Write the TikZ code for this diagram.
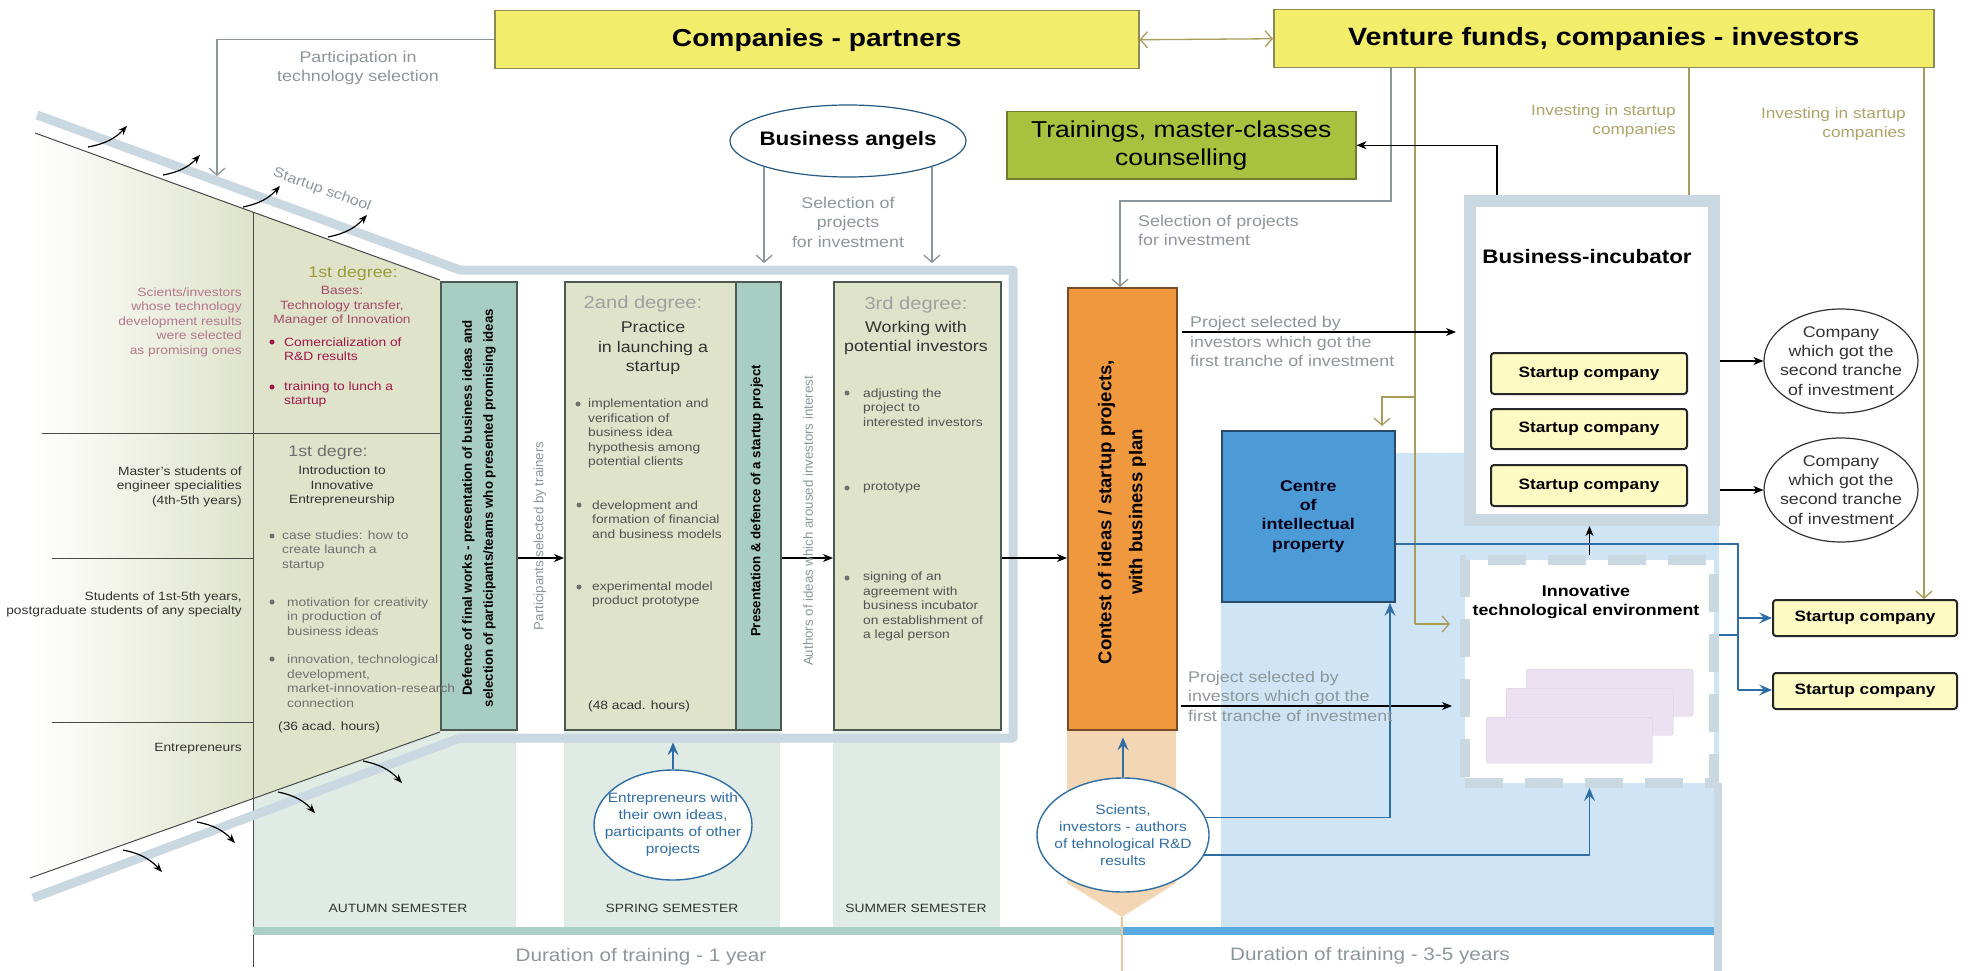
\documentclass[tikz,border=0pt]{standalone}
\usepackage{fontspec}
\setmainfont{Liberation Sans}[FakeStretch=1.15]
\newfontfamily\rotf{Liberation Sans}
\usetikzlibrary{shapes.geometric,arrows.meta,calc}
\newcommand\myfs[2]{\fontsize{#1}{#2}\selectfont}
\definecolor{clab}{HTML}{8C979B}
\definecolor{cband}{HTML}{C9D8E1}
\definecolor{cmint}{HTML}{DFEBE4}
\definecolor{cpale}{HTML}{DEE3CA}
\definecolor{cteal}{HTML}{A8CEC4}
\definecolor{cyel}{HTML}{F2ED6A}
\definecolor{cyelline}{HTML}{8E8A55}
\definecolor{ctrain}{HTML}{A9C13E}
\definecolor{ctrainline}{HTML}{6E7E2E}
\definecolor{corange}{HTML}{F0983D}
\definecolor{cbrown}{HTML}{7A4A22}
\definecolor{ctan}{HTML}{F3D6B3}
\definecolor{cip}{HTML}{4C9BD6}
\definecolor{cipline}{HTML}{2A4A6A}
\definecolor{clblue}{HTML}{CFE5F6}
\definecolor{cblue}{HTML}{2F6EA5}
\definecolor{cbar}{HTML}{5AA9E0}
\definecolor{cbarteal}{HTML}{A9CFC7}
\definecolor{colv}{HTML}{A89D5A}
\definecolor{csc}{HTML}{FDFBC3}
\definecolor{clav}{HTML}{ECE1F0}
\definecolor{clavline}{HTML}{D5C8DD}
\definecolor{cdeg}{HTML}{9C9A3A}
\definecolor{cmaroon}{HTML}{A34B68}
\definecolor{ccrim}{HTML}{A0184A}
\definecolor{cpink}{HTML}{B47790}
\definecolor{cdark}{HTML}{333333}
\definecolor{cgtx}{HTML}{707070}
\definecolor{cdeg2}{HTML}{A0A0A0}
\definecolor{cbox}{HTML}{4D5A52}
\definecolor{cline}{HTML}{4A4A4A}
\definecolor{cinv}{HTML}{AFA36A}
\tikzset{
  txt/.style={inner sep=0pt, align=center},
  gl/.style={txt, text=clab},
  box/.style={draw=cbox, line width=1.5pt, anchor=north west, inner sep=0pt},
  barr/.style={draw=black, line width=1.1pt, -{Stealth[length=10pt,width=8pt,inset=3pt]}},
  garr/.style={draw=clab, line width=1.3pt, -{Straight Barb[length=7pt,width=16pt]}},
  oline/.style={draw=colv, line width=1.3pt},
  oarr/.style={oline, -{Straight Barb[length=7pt,width=16pt]}},
  bline/.style={draw=cblue, line width=1.6pt},
  barrb/.style={bline, -{Stealth[length=13pt,width=11pt,inset=5pt]}},
  carr/.style={draw=black, line width=1.2pt, -{Stealth[length=9pt,width=7pt,inset=3pt]}},
  scbox/.style={draw=black!85, line width=2pt, fill=csc, rounded corners=3pt, anchor=north west, inner sep=0pt, font=\bfseries\myfs{15}{18}},
  dot/.style={circle, fill=#1, inner sep=0pt, minimum size=5pt},
}
\begin{document}
\begin{tikzpicture}[x=1pt,y=-1pt]
\useasboundingbox (0,0) rectangle (1968,971);
\fill[white] (0,0) rectangle (1968,971);

% ---------- background regions
\fill[clblue] (1221,453) rectangle (1719,927);
\fill[cmint] (253,282) rectangle (516,927);
\fill[cmint] (564,282) rectangle (780,927);
\fill[cmint] (833,282) rectangle (1000,927);

% ---------- left trapezoid
\shade[left color=white, right color=cpale] (35,133) -- (253,211.6) -- (253,798.6) -- (30,878) -- cycle;
\fill[cpale] (253,211.6) -- (440,280) -- (440,732) -- (253,798.6) -- cycle;
\draw[cline, line width=1pt] (35,133) -- (440,280);
\draw[cline, line width=1pt] (30,878) -- (440,732);
\draw[cline, line width=1pt] (253,211.6) -- (253,967);
\draw[cline, line width=1pt] (42,433) -- (440,433);
\draw[cline, line width=1pt] (52,558) -- (253,558);
\draw[cline, line width=1pt] (52,722) -- (253,722);

% ---------- frame band
\draw[cband, line width=9pt, line join=round] (33,898) -- (460,738) -- (1013,738) -- (1013,270) -- (460,270) -- (37,115);

% ---------- bars
\fill[cbarteal] (253,927) rectangle (1123,935);
\fill[cbar] (1123,927) rectangle (1716,935);
\draw[cband, line width=8pt] (1718,783) -- (1718,971);
\fill[ctan] (1067,729) -- (1176,729) -- (1176,883) -- (1122,917) -- (1067,883) -- cycle;
\draw[ctan!80!brown, line width=1.2pt] (1122,917) -- (1122,971);

% ---------- curved arrows on the bands
\draw[carr] (88,147) to[bend right=18] (127,126);
\draw[carr] (163,175) to[bend right=18] (200,155);
\draw[carr] (243,207) to[bend right=18] (280,186);
\draw[carr] (328,237) to[bend right=18] (367,215);
\draw[carr] (123,850) to[bend left=18] (162,872);
\draw[carr] (197,822) to[bend left=18] (235,843);
\draw[carr] (278,792) to[bend left=18] (315,813);
\draw[carr] (363,761) to[bend left=18] (402,783);

% ---------- top boxes
\node[box, fill=cyel, draw=cyelline, minimum width=644pt, minimum height=58pt, font=\bfseries\myfs{24.5}{28}] (comp) at (494,10) {Companies - partners};
\node[box, fill=cyel, draw=cyelline, minimum width=660pt, minimum height=58pt, font=\bfseries\myfs{25}{28}] (vent) at (1273,9) {Venture funds, companies - investors};
\node[box, fill=ctrain, draw=ctrainline, minimum width=349pt, minimum height=67pt, align=center, font=\myfs{23}{28}] (train) at (1006,111) {Trainings, master-classes\\counselling};
\node[ellipse, draw=cblue!80!black, line width=1.2pt, fill=white, minimum width=236pt, minimum height=72pt, inner sep=0pt] (angels) at (848,141) {};
\node[txt, font=\bfseries\myfs{19.5}{22}] (tang) at (angels.center) {Business angels};

% ---------- middle boxes
\node[box, fill=cteal, minimum width=76pt, minimum height=448pt] (defence) at (440,281) {};
\node[box, fill=cpale, minimum width=216pt, minimum height=448pt] (deg2) at (564,281) {};
\node[box, fill=cteal, minimum width=45pt, minimum height=448pt] (pres) at (735,281) {};
\node[box, fill=cpale, minimum width=167pt, minimum height=448pt] (deg3) at (833,281) {};
\node[box, fill=corange, draw=cbrown, minimum width=109pt, minimum height=442pt] (contest) at (1067,287) {};

% ---------- right side
\node[draw=cband, line width=12pt, fill=white, minimum width=244pt, minimum height=319pt, anchor=north west, inner sep=0pt] (incub) at (1464,195) {};
\node[draw=cband, line width=10pt, dash pattern=on 38pt off 22pt, fill=white, minimum width=249pt, minimum height=223pt, anchor=north west, inner sep=0pt] (env) at (1460,555) {};
\node[box, fill=cip, draw=cipline, minimum width=173pt, minimum height=171pt] (ip) at (1221,430) {};
\node[draw=clavline, fill=clav, rounded corners=2pt, minimum width=167pt, minimum height=47pt, anchor=north west, inner sep=0pt] (lv1) at (1526,669) {};
\node[draw=clavline, fill=clav, rounded corners=2pt, minimum width=167pt, minimum height=47pt, anchor=north west, inner sep=0pt] (lv2) at (1506,688) {};
\node[draw=clavline, fill=clav, rounded corners=2pt, minimum width=166pt, minimum height=46pt, anchor=north west, inner sep=0pt] (lv3) at (1486,717) {};
\node[scbox, minimum width=196pt, minimum height=41pt] (sc1) at (1490,352) {Startup company};
\node[scbox, minimum width=196pt, minimum height=40pt] (sc2) at (1490,408) {Startup company};
\node[scbox, minimum width=196pt, minimum height=41pt] (sc3) at (1490,464) {Startup company};
\node[scbox, minimum width=184pt, minimum height=36pt] (rsc1) at (1772,599) {Startup company};
\node[scbox, minimum width=184pt, minimum height=36pt] (rsc2) at (1772,672) {Startup company};
\node[ellipse, draw=cdark, line width=1.2pt, fill=white, minimum width=154pt, minimum height=104pt, inner sep=0pt] (ell1) at (1841,361) {};
\node[ellipse, draw=cdark, line width=1.2pt, fill=white, minimum width=154pt, minimum height=104pt, inner sep=0pt] (ell2) at (1841,490) {};
\node[txt, text=cdark, font=\myfs{15.5}{19.3}] (tell1) at (ell1.center) {Company\\which got the\\second tranche\\of investment};
\node[txt, text=cdark, font=\myfs{15.5}{19.3}] (tell2) at (ell2.center) {Company\\which got the\\second tranche\\of investment};
\node[ellipse, draw=cblue, line width=1.4pt, fill=white, minimum width=172pt, minimum height=114pt, inner sep=0pt] (scients) at (1123,835) {};
\node[txt, text=cblue, font=\myfs{13.5}{17}] (tsci2) at (scients.center) {Scients,\\investors - authors\\of tehnological R\&D\\results};
\node[ellipse, draw=cblue, line width=1.4pt, fill=white, minimum width=158pt, minimum height=110pt, inner sep=0pt] (entre) at (673,825) {};
\node[txt, text=cblue, font=\myfs{13.5}{17}] (tentre) at (entre.center) {Entrepreneurs with\\their own ideas,\\participants of other\\projects};

% ---------- named coordinates for free ends / levels
\coordinate (cpart) at (217,176);
\coordinate (frtop) at (0,263);
\coordinate (r558) at (0,558);
\coordinate (r332) at (0,332);
\coordinate (r706) at (0,706);
\coordinate (r544) at (0,544);
\coordinate (r635) at (0,635);
\coordinate (bj) at (1738,690);
\coordinate (xs) at (1391,0);
\coordinate (ys) at (1120,201);
\coordinate (xo) at (1415,0);
\coordinate (oturn) at (1415,624);
\coordinate (obr) at (1415,397);
\coordinate (oip) at (1382,426);
\coordinate (xi) at (1689,0);
\coordinate (xr) at (1924,0);
\coordinate (xt) at (1497,0);
\coordinate (ipb) at (1390,603);

% ---------- connectors
\draw[oline, {Straight Barb[length=7pt,width=16pt]}-{Straight Barb[length=7pt,width=16pt]}] (comp.east) -- (vent.west);
\draw[garr] (comp.west) -| (cpart);
\draw[garr] (angels.south west) -- (angels.south west |- frtop);
\draw[garr] (angels.south east) -- (angels.south east |- frtop);
\draw[garr] (vent.south -| xs) |- (ys) -- (ys |- contest.north);
\draw[oline] (vent.south -| xo) -- (oturn);
\draw[oarr] (oturn) -- ([xshift=-10pt]env.west |- oturn);
\draw[oarr] (obr) -| (oip);
\draw[oline] (vent.south -| xi) -- (incub.north -| xi);
\draw[oarr] (vent.south -| xr) -- (rsc1.north -| xr);
\draw[barr] (incub.north -| xt) |- (train.east);
\draw[barr] (defence.east |- r558) -- (deg2.west |- r558);
\draw[barr] (pres.east |- r558) -- (deg3.west |- r558);
\draw[barr] (deg3.east |- r558) -- (contest.west |- r558);
\draw[barr, shorten >=8pt] ([xshift=4pt]contest.east |- r332) -- (incub.west |- r332);
\draw[barr, shorten >=8pt] ([xshift=3pt]contest.east |- r706) -- (env.west |- r706);
\draw[barr] (incub.east |- ell1) -- (ell1.west);
\draw[barr] (incub.east |- ell2) -- (ell2.west);
\draw[barr] (env.north) -- (env.north |- incub.south);
\draw[bline] (ip.east |- r544) -| (bj);
\draw[bline] (env.east |- r635) -- (bj |- r635);
\draw[barrb] (bj |- rsc1) -- (rsc1.west);
\draw[barrb] (bj) -- (rsc2.west |- bj);
\draw[barrb] (scients.12) -| (ipb);
\draw[barrb] (scients.-14) -| (env.south);
\draw[barrb] (scients.north) -- ++(0,-40);
\draw[barrb] (entre.north) -- ++(0,-27);

% ---------- texts: top
\node[gl, font=\myfs{15.5}{19}] (tpart) at (358,67.5) {Participation in\\technology selection};
\node[gl, font=\myfs{14}{16}, rotate=-20] (tss) at (322,190) {Startup school};
\node[gl, font=\myfs{15.5}{19.5}] (tsel1) at (848,222) {Selection of\\projects\\for investment};
\node[gl, font=\myfs{15.5}{19.5}, align=left, anchor=west] (tsel2) at (1138,230.5) {Selection of projects\\for investment};
\node[txt, text=cinv, font=\myfs{15}{19}, align=right, anchor=east] (tinv1) at (1676,121.5) {Investing in startup\\companies};
\node[txt, text=cinv, font=\myfs{15}{19}, align=right, anchor=east] (tinv2) at (1906,124) {Investing in startup\\companies};

% ---------- texts: left column
\node[txt, text=cpink, align=right, anchor=east, font=\myfs{12}{14.5}] (tsci) at (242,322) {Scients/investors\\whose technology\\development results\\were selected\\as promising ones};
\node[txt, text=cdeg, font=\myfs{15.5}{18}] (t1d) at (353,273) {1st degree:};
\node[txt, text=cmaroon, font=\myfs{12}{14.5}] (tbases) at (342,306.5) {Bases:\\Technology transfer,\\Manager of Innovation};
\node[dot=ccrim] (d1) at (272,342) {};
\node[txt, text=ccrim, align=left, anchor=west, font=\myfs{12}{14.5}] (tcom) at (284,349) {Comercialization of\\R\&D results};
\node[dot=ccrim] (d2) at (272,387) {};
\node[txt, text=ccrim, align=left, anchor=west, font=\myfs{12}{14.5}] (ttr) at (284,394.5) {training to lunch a\\startup};
\node[txt, text=cdark, align=right, anchor=east, font=\myfs{12}{14.5}] (tmas) at (242,486.5) {Master’s students of\\engineer specialities\\(4th-5th years)};
\node[txt, text=cgtx, font=\myfs{15.5}{18}] (t1d2) at (328,452) {1st degre:};
\node[txt, text=cdark, font=\myfs{12}{14.5}] (tintro) at (342,486) {Introduction to\\Innovative\\Entrepreneurship};
\node[dot=cgtx] (d3) at (272,536) {};
\node[txt, text=cgtx, align=left, anchor=west, font=\myfs{12}{14.5}] (tcase) at (282,550.5) {case studies: how to\\create launch a\\startup};
\node[dot=cgtx] (d4) at (272,602) {};
\node[txt, text=cgtx, align=left, anchor=west, font=\myfs{12}{14.5}] (tmot) at (287,616.5) {motivation for creativity\\in production of\\business ideas};
\node[dot=cgtx] (d5) at (272,659) {};
\node[txt, text=cgtx, align=left, anchor=west, font=\myfs{12}{14.5}] (tinn) at (287,681) {innovation, technological\\development,\\market-innovation-research\\connection};
\node[txt, text=cdark, anchor=west, font=\myfs{12}{14.5}] (t36) at (278,727) {(36 acad. hours)};
\node[txt, text=cdark, align=right, anchor=east, font=\myfs{12}{14.5}] (tstud) at (242,604.5) {Students of 1st-5th years,\\postgraduate students of any specialty};
\node[txt, text=cdark, anchor=east, font=\myfs{12}{14.5}] (tentr) at (242,749) {Entrepreneurs};

% ---------- texts: middle
\node[txt, rotate=90, font=\rotf\bfseries\myfs{13.3}{21}] (tdef) at (479,508) {Defence of final works - presentation of business ideas and\\selection of participants/teams who presented promising ideas};
\node[txt, rotate=90, text=clab, font=\rotf\myfs{13.3}{16}] (tpst) at (540,536) {Participants selected by trainers};
\node[txt, text=cdeg2, font=\myfs{17.5}{20}] (t2d) at (643,304) {2and degree:};
\node[txt, text=cdark, font=\myfs{15.5}{19.5}] (tprac) at (653,348) {Practice\\in launching a\\startup};
\node[dot=cgtx] (d6) at (578,404) {};
\node[txt, text=cdark!85, align=left, anchor=west, font=\myfs{12}{14.6}] (timp) at (588,433.5) {implementation and\\verification of\\business idea\\hypothesis among\\potential clients};
\node[dot=cgtx] (d7) at (579,505) {};
\node[txt, text=cdark!85, align=left, anchor=west, font=\myfs{12}{14.6}] (tdev) at (592,519.5) {development and\\formation of financial\\and business models};
\node[dot=cgtx] (d8) at (579,587) {};
\node[txt, text=cdark!85, align=left, anchor=west, font=\myfs{12}{14.6}] (texp) at (592,594.5) {experimental model\\product prototype};
\node[txt, text=cdark, anchor=west, font=\myfs{12}{14.6}] (t48) at (588,706) {(48 acad. hours)};
\node[txt, rotate=90, font=\rotf\bfseries\myfs{13.3}{16}] (tpres) at (757,501) {Presentation \& defence of a startup project};
\node[txt, rotate=90, text=clab, font=\rotf\myfs{13.3}{16}] (tauth) at (808,521) {Authors of ideas which aroused investors interest};
\node[txt, text=cdeg2, font=\myfs{17.5}{20}] (t3d) at (916,305) {3rd degree:};
\node[txt, text=cdark, font=\myfs{15.5}{19.5}] (twork) at (916,338) {Working with\\potential investors};
\node[dot=cgtx] (d9) at (847,393) {};
\node[txt, text=cdark!85, align=left, anchor=west, font=\myfs{12}{14.6}] (tadj) at (863,407.5) {adjusting the\\project to\\interested investors};
\node[dot=cgtx] (d10) at (847,488) {};
\node[txt, text=cdark!85, anchor=west, font=\myfs{12}{14.6}] (tproto) at (863,488) {prototype};
\node[dot=cgtx] (d11) at (847,578) {};
\node[txt, text=cdark!85, align=left, anchor=west, font=\myfs{12}{14.6}] (tsign) at (863,606.5) {signing of an\\agreement with\\business incubator\\on establishment of\\a legal person};
\node[txt, text=cdark, font=\myfs{12}{14}] (taut) at (398,908) {AUTUMN SEMESTER};
\node[txt, text=cdark, font=\myfs{12}{14}] (tspr) at (672,908) {SPRING SEMESTER};
\node[txt, text=cdark, font=\myfs{12}{14}] (tsum) at (916,908) {SUMMER SEMESTER};
\node[gl, font=\myfs{18}{20}] (tdur1) at (641,957) {Duration of training - 1 year};
\node[gl, font=\myfs{18}{20}] (tdur2) at (1370,956) {Duration of training - 3-5 years};

% ---------- texts: right
\node[txt, rotate=90, font=\rotf\bfseries\myfs{18.5}{31}] (tcont) at (1122,512) {Contest of ideas / startup projects,\\with business plan};
\node[gl, align=left, anchor=west, font=\myfs{15.5}{19.5}] (tps1) at (1190,341.5) {Project selected by\\investors which got the\\first tranche of investment};
\node[gl, align=left, anchor=west, font=\myfs{15.5}{19.5}] (tps2) at (1188,696) {Project selected by\\investors which got the\\first tranche of investment};
\node[txt, text=black!90!blue, font=\bfseries\myfs{15.5}{19.3}] (tip) at (ip.center) {Centre\\of\\intellectual\\property};
\node[txt, font=\bfseries\myfs{19.5}{22}] (tinc) at (1587,257) {Business-incubator};
\node[txt, font=\bfseries\myfs{15.5}{19}] (tenv) at (1586,602.5) {Innovative\\technological environment};
\end{tikzpicture}
\end{document}
